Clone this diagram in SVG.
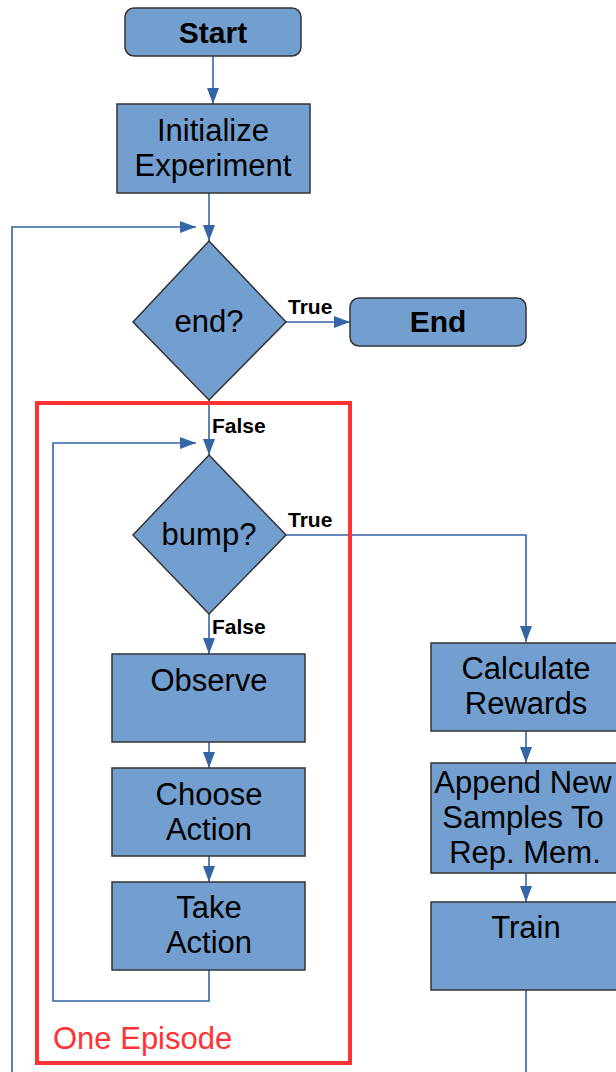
<svg xmlns="http://www.w3.org/2000/svg" width="616" height="1072" viewBox="0 0 616 1072">
<style>
.box{fill:#729fcf;stroke:#333333;stroke-width:1.5}
.t{font-family:"Liberation Sans",Arial,sans-serif;font-size:31px;fill:#000;text-anchor:middle}
.b{font-weight:bold;font-size:30px}
.lbl{font-family:"Liberation Sans",Arial,sans-serif;font-size:21px;font-weight:bold;fill:#000}
.c{fill:none;stroke:#3465a4;stroke-width:1.6}
</style>
<defs>
<marker id="ah" markerUnits="userSpaceOnUse" markerWidth="16" markerHeight="12" refX="16" refY="6" orient="auto">
<path d="M0,0 L16,6 L0,12 z" fill="#3465a4"/>
</marker>
</defs>
<rect x="0" y="0" width="616" height="1072" fill="#ffffff"/>
<g id="connectors">
<path class="c" d="M213,56 V104" marker-end="url(#ah)"/>
<path class="c" d="M209,193 V241" marker-end="url(#ah)"/>
<path class="c" d="M12,1072 V227 H196" marker-end="url(#ah)"/>
<path class="c" d="M286,322 H350" marker-end="url(#ah)"/>
<path class="c" d="M209,400 V455" marker-end="url(#ah)"/>
<path class="c" d="M286,535 H526 V642" marker-end="url(#ah)"/>
<path class="c" d="M209,614 V654" marker-end="url(#ah)"/>
<path class="c" d="M209,742 V768" marker-end="url(#ah)"/>
<path class="c" d="M209,856 V882" marker-end="url(#ah)"/>
<path class="c" d="M209,970 V1001 H53 V443 H196" marker-end="url(#ah)"/>
<path class="c" d="M526,730 V763" marker-end="url(#ah)"/>
<path class="c" d="M526,873 V902" marker-end="url(#ah)"/>
<path class="c" d="M526,990 V1072"/>
<text class="lbl" x="288" y="314">True</text>
<text class="lbl" x="212" y="433">False</text>
<text class="lbl" x="288" y="527">True</text>
<text class="lbl" x="212" y="634">False</text>
</g>
<g id="episode">
<rect x="37" y="403" width="313" height="660" fill="none" stroke="#ff3333" stroke-width="4"/>
<text x="53" y="1049" font-family="'Liberation Sans',Arial,sans-serif" font-size="31" fill="#ff3333">One Episode</text>
</g>
<g id="start">
<rect class="box" x="125" y="8" width="176" height="48" rx="9"/>
<text class="t b" x="213" y="43">Start</text>
</g>
<g id="init">
<rect class="box" x="117" y="104" width="193" height="89"/>
<text class="t" x="213" y="141">Initialize</text>
<text class="t" x="213" y="176">Experiment</text>
</g>
<g id="end-decision">
<polygon class="box" points="209,241 286,322 209,400 133,322"/>
<text class="t" x="209" y="332">end?</text>
</g>
<g id="end">
<rect class="box" x="350" y="298" width="176" height="48" rx="9"/>
<text class="t b" x="438" y="332">End</text>
</g>
<g id="bump-decision">
<polygon class="box" points="209,455 286,535 209,614 133,535"/>
<text class="t" x="209" y="545">bump?</text>
</g>
<g id="observe">
<rect class="box" x="112" y="654" width="193" height="88"/>
<text class="t" x="209" y="691">Observe</text>
</g>
<g id="choose">
<rect class="box" x="112" y="768" width="193" height="88"/>
<text class="t" x="209" y="805">Choose</text>
<text class="t" x="209" y="840">Action</text>
</g>
<g id="take">
<rect class="box" x="112" y="882" width="193" height="88"/>
<text class="t" x="209" y="918">Take</text>
<text class="t" x="209" y="953">Action</text>
</g>
<g id="calc">
<rect class="box" x="431" y="643" width="193" height="88"/>
<text class="t" x="526" y="679">Calculate</text>
<text class="t" x="526" y="714">Rewards</text>
</g>
<g id="append">
<rect class="box" x="431" y="763" width="193" height="110"/>
<text class="t" x="523" y="793">Append New</text>
<text class="t" x="523" y="828">Samples To</text>
<text class="t" x="525" y="863">Rep. Mem.</text>
</g>
<g id="train">
<rect class="box" x="431" y="902" width="193" height="88"/>
<text class="t" x="526" y="938">Train</text>
</g>
</svg>
